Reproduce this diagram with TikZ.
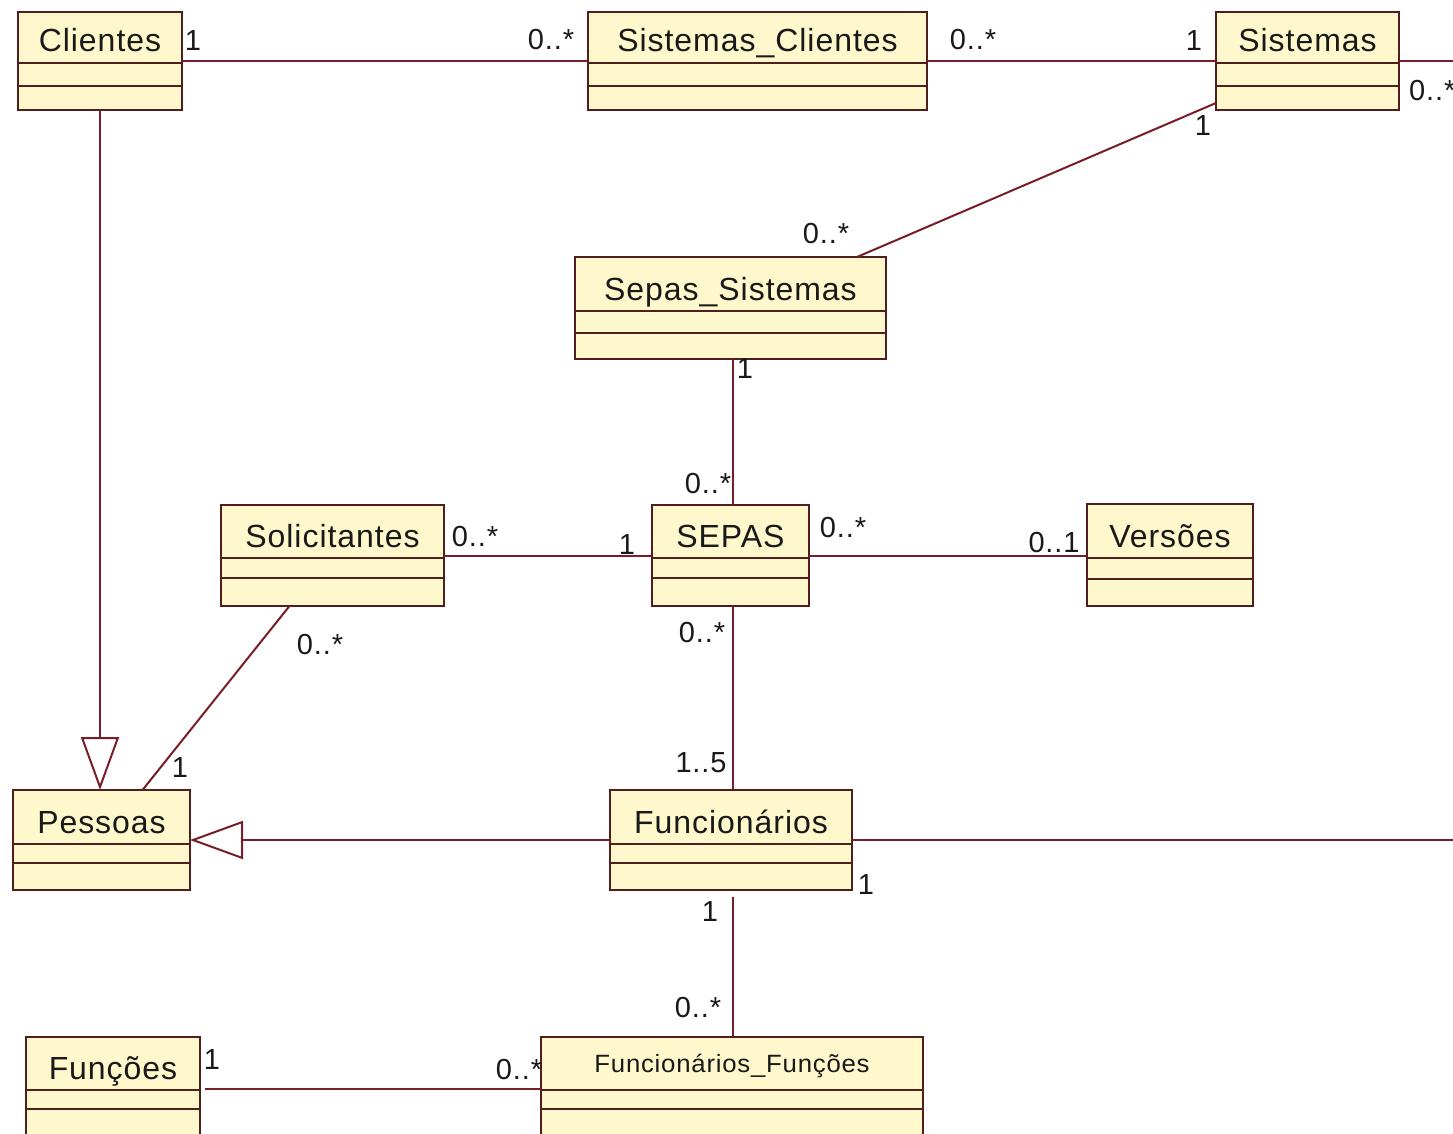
\documentclass[tikz,border=0pt]{standalone}
\usepackage{fontspec}
\setmainfont{Liberation Sans}[LetterSpace=3]
\usetikzlibrary{arrows.meta,calc,fit}
\definecolor{clsfill}{RGB}{255,248,204}
\definecolor{clsdraw}{RGB}{80,30,28}
\definecolor{assoccol}{RGB}{120,30,40}
\definecolor{txt}{RGB}{25,25,25}
\tikzset{
  clsbox/.style={draw=clsdraw, fill=clsfill, line width=2.4pt, inner sep=0pt, outer sep=0pt},
  clsdiv/.style={draw=clsdraw, line width=2.2pt},
  clsname/.style={font=\fontsize{32}{36}\selectfont, text=txt, inner sep=0pt, anchor=base},
  mult/.style={font=\fontsize{29}{33}\selectfont, text=txt, inner sep=0pt, anchor=center},
  assocline/.style={draw=assoccol, line width=2pt},
  genline/.style={draw=assoccol, line width=2pt, -{Triangle[open, length=53pt, width=38pt]}},
}
\newcommand\umlclass[9]{%
  \coordinate (#1nw) at (#2,#3);
  \coordinate (#1se) at (#4,#5);
  \node[clsbox, fit=(#1nw)(#1se)] (#1) {};
  \draw[clsdiv] (#2,#6) -- (#4,#6);
  \draw[clsdiv] (#2,#7) -- (#4,#7);
  \node[clsname, #9] (#1name) at ({(#2+#4)/2},{#6-11}) {#8};
}
\begin{document}
\begin{tikzpicture}[x={(1pt,0)}, y={(0,-1pt)}]
\useasboundingbox (0,0) rectangle (1453,1134);
\fill[white] (0,0) rectangle (1453,1134);
\clip (0,0) rectangle (1453,1134);

% classes
\umlclass{cl}{18}{12}{182}{110}{63}{86}{Clientes}{}
\umlclass{sc}{588}{12}{927}{110}{63}{86}{Sistemas\_Clientes}{}
\umlclass{si}{1216}{12}{1399}{110}{63}{86}{Sistemas}{}
\umlclass{ss}{575}{257}{886}{359}{311}{333}{Sepas\_Sistemas}{}
\umlclass{so}{221}{505}{444}{606}{558}{578}{Solicitantes}{}
\umlclass{se}{652}{505}{809}{606}{558}{578}{SEPAS}{}
\umlclass{ve}{1087}{504}{1253}{606}{558}{579}{Versões}{}
\umlclass{pe}{13}{790}{190}{890}{844}{863}{Pessoas}{}
\umlclass{fn}{610}{790}{852}{890}{844}{863}{Funcionários}{}
\umlclass{fu}{26}{1037}{200}{1140}{1090}{1109}{Funções}{}
\umlclass{ff}{541}{1037}{923}{1140}{1090}{1109}{Funcionários\_Funções}{font=\fontsize{25}{29}\selectfont, yshift=7pt, xscale=1.03}

\coordinate (edgeA) at (1470,61);
\coordinate (edgeB) at (1470,840);

% connectors
\draw[assocline] (cl.east) -- (sc.west);
\draw[assocline] (sc.east) -- (si.west);
\draw[assocline] (si.east) -- (edgeA);
\draw[assocline] ($(si.south west)+(0,-7)$) -- ($(ss.north east)+(-29,0)$);
\draw[assocline] ($(ss.south)+(2,0)$) -- ($(se.north)+(2,0)$);
\draw[assocline] (so.east) -- (se.west);
\draw[assocline] (se.east) -- (se.east -| ve.west);
\draw[assocline] ($(se.south)+(2,0)$) -- ($(se.south |- fn.north)+(2,0)$);
\draw[assocline] ($(so.south)+(-43,0)$) -- ($(pe.north)+(41,0)$);
\draw[genline] (cl.south) -- (cl.south |- pe.north);
\draw[genline] (fn.west) -- (pe.east |- fn.west);
\draw[assocline] (fn.east) -- (edgeB);
\draw[assocline] ($(fn.south)+(2,7)$) -- ($(fn.south |- ff.north)+(2,0)$);
\draw[assocline] ($(fu.east)+(5,0)$) -- (ff.west |- fu.east);

% multiplicities
\node[mult] (m1) at (193,41) {1};
\node[mult] (m2) at (551,40) {0..*};
\node[mult] (m3) at (973,40) {0..*};
\node[mult] (m4) at (1194,41) {1};
\node[mult, anchor=west] (m5) at (1409,91) {0..*};
\node[mult] (m6) at (1203,126) {1};
\node[mult] (m7) at (826,234) {0..*};
\node[mult] (m8) at (745,369) {1};
\node[mult] (m9) at (708,484) {0..*};
\node[mult] (m10) at (475,537) {0..*};
\node[mult] (m11) at (627,545) {1};
\node[mult] (m12) at (843,528) {0..*};
\node[mult] (m13) at (1054,543) {0..1};
\node[mult] (m14) at (320,645) {0..*};
\node[mult] (m15) at (702,633) {0..*};
\node[mult] (m16) at (701,763) {1..5};
\node[mult] (m17) at (180,768) {1};
\node[mult] (m18) at (866,885) {1};
\node[mult] (m19) at (710,912) {1};
\node[mult] (m20) at (698,1008) {0..*};
\node[mult] (m21) at (212,1060) {1};
\node[mult] (m22) at (519,1070) {0..*};
\end{tikzpicture}
\end{document}
